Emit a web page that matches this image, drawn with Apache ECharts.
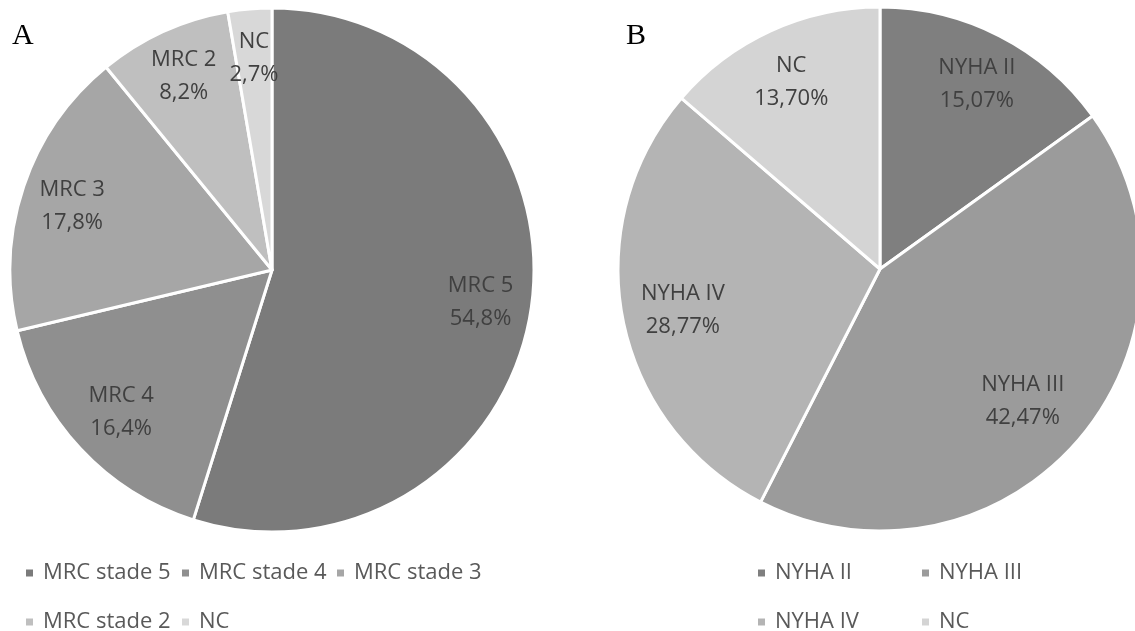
<!DOCTYPE html>
<html>
<head>
<meta charset="utf-8">
<script src="https://cdn.jsdelivr.net/npm/echarts@6/dist/echarts.min.js"></script>
<style>
html,body{margin:0;padding:0;background:#fff;}
#c{width:1135px;height:631px;}
</style>
</head>
<body>
<div id="c"></div>
<script>
// ---- Data ----
const namesA = ['MRC stade 5', 'MRC stade 4', 'MRC stade 3', 'MRC stade 2', 'NC'];
const labelsA = ['MRC 5', 'MRC 4', 'MRC 3', 'MRC 2', 'NC'];
const valuesA = [54.8, 16.4, 17.8, 8.2, 2.7];
const colorsA = ['#7b7b7b', '#8f8f8f', '#a6a6a6', '#bfbfbf', '#d8d8d8'];

const namesB = ['NYHA II', 'NYHA III', 'NYHA IV', 'NC'];
const labelsB = ['NYHA II', 'NYHA III', 'NYHA IV', 'NC'];
const valuesB = [15.07, 42.47, 28.77, 13.70];
const colorsB = ['#7f7f7f', '#9b9b9b', '#b4b4b4', '#d4d4d4'];

// layout settings (not data)
const nudgeA = [[-2, 0], [5, -3], [2, 4], [0, 0], [0, 0]];
const nudgeB = [[2, 0], [-15, -3], [7, 1], [-2, 2]];
const legendSlotsA = [[24, 562], [180, 562], [335, 562], [24, 611], [180, 611]];
const legendSlotsB = [[756, 562], [920, 562], [756, 611], [920, 611]];

const FONT = 'Open Sans';
const FS = 22;
const R = 262;
const centerA = [272, 270];
const centerB = [880, 269];

function pieData(names, values, colors) {
  return names.map((n, i) => ({ name: n, value: values[i], itemStyle: { color: colors[i] } }));
}
function fmt(labels, dec) {
  return p => labels[p.dataIndex] + '\n' + p.value.toFixed(dec).replace('.', ',') + '%';
}
function legends(names, colors, slots) {
  return names.map((n, i) => ({
    data: [{ name: n, itemStyle: { color: colors[i] } }],
    left: slots[i][0], top: slots[i][1], orient: 'horizontal',
    icon: 'rect', itemWidth: 9, itemHeight: 9, itemGap: 0,
    selectedMode: false, padding: 0,
    textStyle: { fontFamily: FONT, fontSize: FS, color: '#595959', padding: [0, 0, 0, 4] }
  }));
}

const chart = echarts.init(document.getElementById('c'));
chart.setOption({
  animation: false,
  title: [
    { text: 'A', left: 12, top: 21, padding: 0, textStyle: { fontFamily: 'Liberation Serif', fontSize: 30, fontWeight: 'normal', color: '#000' } },
    { text: 'B', left: 626, top: 21, padding: 0, textStyle: { fontFamily: 'Liberation Serif', fontSize: 30, fontWeight: 'normal', color: '#000' } }
  ],
  legend: legends(namesA, colorsA, legendSlotsA).concat(legends(namesB, colorsB, legendSlotsB)),
  series: [
    {
      type: 'pie', center: centerA, radius: [0, R], startAngle: 90, clockwise: true,
      data: pieData(namesA, valuesA, colorsA),
      itemStyle: { borderColor: '#fff', borderWidth: 3 },
      label: { show: false }, labelLine: { show: false }, silent: true
    },
    {
      type: 'pie', center: centerA, radius: [205, 215], startAngle: 90, clockwise: true,
      data: pieData(namesA, valuesA, colorsA.map(() => 'rgba(0,0,0,0)')),
      itemStyle: { color: 'rgba(0,0,0,0)' }, silent: true,
      label: { show: true, position: 'inside', formatter: fmt(labelsA, 1), fontFamily: FONT, fontSize: FS, lineHeight: 33, color: '#404040' },
      labelLine: { show: false },
      labelLayout: p => ({ dx: nudgeA[p.dataIndex][0], dy: nudgeA[p.dataIndex][1] })
    },
    {
      type: 'pie', center: centerB, radius: [0, R], startAngle: 90, clockwise: true,
      data: pieData(namesB, valuesB, colorsB),
      itemStyle: { borderColor: '#fff', borderWidth: 3 },
      label: { show: false }, labelLine: { show: false }, silent: true
    },
    {
      type: 'pie', center: centerB, radius: [200, 210], startAngle: 90, clockwise: true,
      data: pieData(namesB, valuesB, colorsB.map(() => 'rgba(0,0,0,0)')),
      itemStyle: { color: 'rgba(0,0,0,0)' }, silent: true,
      label: { show: true, position: 'inside', formatter: fmt(labelsB, 2), fontFamily: FONT, fontSize: FS, lineHeight: 33, color: '#404040' },
      labelLine: { show: false },
      labelLayout: p => ({ dx: nudgeB[p.dataIndex][0], dy: nudgeB[p.dataIndex][1] })
    }
  ]
});
</script>
</body>
</html>
